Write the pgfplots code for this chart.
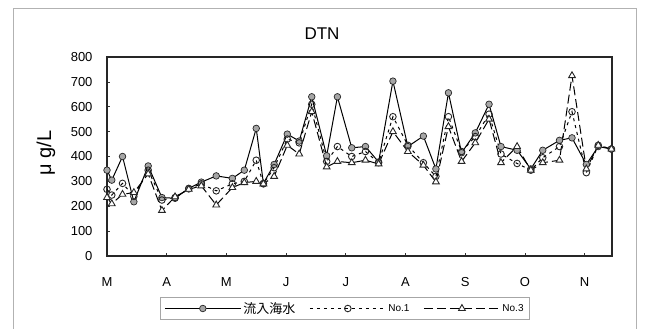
\documentclass[border=0pt]{standalone}
\usepackage{pgfplots}
\usepackage{pgfplotstable}
\pgfplotsset{compat=1.18}
\usepackage{fontspec}
\setmainfont{Liberation Sans}
\newfontfamily\jp{Noto Sans CJK JP}

% weekly DTN samples; x in months from the start of March
\pgfplotstableread{
x    main no1 no3
0.00 345 268 235
0.08 305 245 210
0.26 400 292 248
0.45 218 240 255
0.69 362 345 330
0.92 235 225 183
1.14 232 235 238
1.37 272 270 268
1.58 297 290 282
1.83 322 262 205
2.10 312 290 275
2.30 345 300 295
2.50 513 385 300
2.62 292 290 290
2.80 368 355 320
3.02 490 470 445
3.22 462 455 410
3.43 640 610 580
3.68 403 380 358
3.86 640 440 380
4.10 435 400 375
4.33 440 420 385
4.55 378 375 370
4.79 703 560 500
5.04 440 445 420
5.30 482 375 365
5.51 350 320 298
5.72 656 560 520
5.94 415 420 380
6.17 495 480 455
6.40 610 570 550
6.60 440 410 375
6.87 425 372 440
7.10 350 345 345
7.30 425 395 375
7.58 465 440 385
7.79 475 580 725
8.03 368 335 350
8.23 440 445 445
8.45 430 430 430
}\dtn

\begin{document}
\begin{tikzpicture}
\useasboundingbox (0pt,0pt) rectangle (645pt,329pt);
\begin{scope}
  \clip (0pt,0pt) rectangle (645pt,329pt);
  \draw[gray!60, line width=0.8pt] (13pt,-20pt) rectangle (636pt,321pt);
\end{scope}
\node[font=\fontsize{17}{17}\selectfont] at (322pt,295pt) {DTN};
\node[rotate=90, font=\fontsize{20}{20}\selectfont] at (46pt,176pt) {μ g/L};
\begin{axis}[
  at={(107pt,73pt)}, anchor=south west,
  width=505pt, height=199pt, scale only axis,
  xmin=0, xmax=8.46, ymin=0, ymax=800,
  xtick={0,...,8}, xticklabels={M,A,M,J,J,A,S,O,N},
  ytick={0,100,...,800},
  tick pos=left, tick align=inside, major tick length=3pt,
  axis line style={line width=1.1pt, black!85},
  tick style={black!80, line width=0.6pt},
  /pgf/number format/assume math mode=true,
  xticklabel style={font=\fontsize{13}{13}\selectfont, yshift=-18pt},
  yticklabel style={font=\fontsize{13}{13}\selectfont, xshift=-11pt},
  legend columns=3,
  legend style={at={(axis description cs:0.105,-0.206)}, anchor=north west,
    draw=gray!70, line width=0.6pt, font=\fontsize{10}{10}\selectfont,
    inner xsep=4pt, inner ysep=3pt,
    /tikz/every even column/.append style={column sep=12pt}},
  legend image code/.code={\draw[mark repeat=2,mark phase=2,#1]
    plot coordinates {(0pt,0pt) (38pt,0pt) (76pt,0pt)};},
]
\addplot[black, line width=1pt, mark=*, mark size=3.3pt,
  mark options={solid, fill=gray!70, draw=black!85, line width=0.7pt}]
  table[x=x, y=main] {\dtn};
\addlegendentry{{\jp\fontsize{13}{13}\selectfont 流入海水}}
\addplot[black, line width=1pt, dash pattern=on 3pt off 4pt, mark=o, mark size=3.3pt,
  mark options={solid, fill=white, draw=black!85, line width=0.9pt}]
  table[x=x, y=no1] {\dtn};
\addlegendentry{No.1}
\addplot[black, line width=1pt, dash pattern=on 9pt off 4pt, mark=triangle*, mark size=3.9pt,
  mark options={solid, fill=white, draw=black!85, line width=0.9pt}]
  table[x=x, y=no3] {\dtn};
\addlegendentry{No.3}
\end{axis}
\end{tikzpicture}
\end{document}
